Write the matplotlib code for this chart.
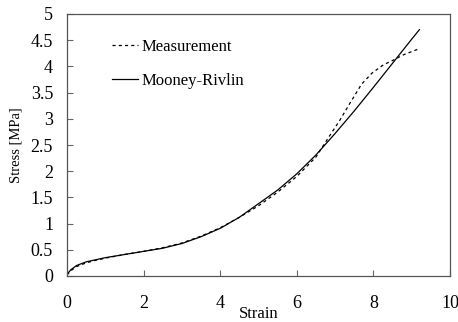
import matplotlib
matplotlib.use("Agg")
import matplotlib.pyplot as plt

plt.rcParams['font.family'] = ['Liberation Serif', 'DejaVu Serif']

strain_mr = [0.0, 0.1, 0.25, 0.5, 0.75, 1.0, 1.5, 2.0, 2.5, 3.0, 3.5, 4.0, 4.5, 5.0, 5.5, 6.0, 6.5, 7.0, 7.5, 8.0, 8.5, 9.0, 9.2]
stress_mr = [0.03, 0.12, 0.2, 0.27, 0.31, 0.35, 0.41, 0.47, 0.53, 0.62, 0.75, 0.91, 1.12, 1.38, 1.64, 1.95, 2.31, 2.72, 3.15, 3.6, 4.06, 4.52, 4.7]

strain_meas = [0.0, 0.1, 0.25, 0.5, 0.75, 1.0, 1.5, 2.0, 2.5, 3.0, 3.5, 4.0, 4.5, 5.0, 5.5, 6.0, 6.5, 6.87, 7.13, 7.39, 7.69, 7.96, 8.26, 8.52, 8.78, 9.17]
stress_meas = [0.02, 0.1, 0.18, 0.25, 0.3, 0.34, 0.41, 0.47, 0.54, 0.63, 0.76, 0.92, 1.12, 1.34, 1.6, 1.9, 2.27, 2.69, 2.98, 3.3, 3.66, 3.87, 4.03, 4.12, 4.22, 4.33]

fig = plt.figure(figsize=(4.58, 3.22), dpi=100)
ax = fig.add_axes([67/458, 1 - 276/322, (450-67)/458, (276-14)/322])

ax.plot(strain_meas, stress_meas, linestyle=(0, (2.5, 2.5)), color='black', linewidth=0.9, label='Measurement')
ax.plot(strain_mr, stress_mr, linestyle='-', color='black', linewidth=0.9, label='Mooney-Rivlin')

ax.set_xlim(0, 10)
ax.set_ylim(0, 5)
ax.set_xticks([0, 2, 4, 6, 8, 10])
ax.set_yticks([0, 0.5, 1, 1.5, 2, 2.5, 3, 3.5, 4, 4.5, 5])
ax.set_yticklabels(['0', '0.5', '1', '1.5', '2', '2.5', '3', '3.5', '4', '4.5', '5'])
ax.tick_params(direction='in', length=4, width=0.8, labelsize=13, color='#666666')
ax.tick_params(axis='x', pad=14)
ax.tick_params(axis='y', pad=10)
for s in ax.spines.values():
    s.set_color('#555555')
    s.set_linewidth(0.9)

fig.text((67 + 0.5 * (450 - 67)) / 458, 1 - 318.5 / 322, 'Strain', fontsize=12,
         ha='center', va='baseline')
ax.set_ylabel('Stress [MPa]', fontsize=10.5, labelpad=6)

leg = ax.legend(loc='upper left', bbox_to_anchor=(0.117, 0.905), frameon=False, fontsize=12,
                handlelength=1.55, handletextpad=0.25, labelspacing=1.1,
                borderpad=0, borderaxespad=0)

fig.savefig('out.png', dpi=100)
